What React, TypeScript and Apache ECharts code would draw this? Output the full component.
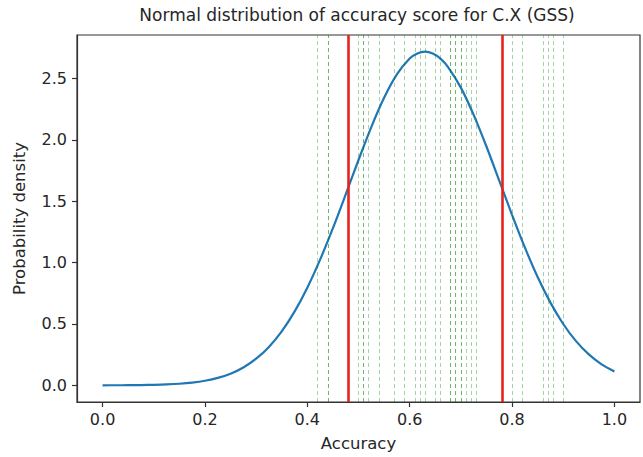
import React, { useEffect, useRef } from "react";
import * as echarts from "echarts";

const titleText = "Normal distribution of accuracy score for C.X (GSS)";
const xAxisName = "Accuracy";
const yAxisName = "Probability density";

const xTicks = [0.0, 0.2, 0.4, 0.6, 0.8, 1.0];
const yTicks = [0.0, 0.5, 1.0, 1.5, 2.0, 2.5];

// density curve
const curveX = [
  0.0, 0.025, 0.05, 0.075, 0.1, 0.125, 0.15, 0.175, 0.2, 0.225, 0.25, 0.275, 0.3, 0.325,
  0.35, 0.375, 0.4, 0.425, 0.45, 0.475, 0.5, 0.525, 0.55, 0.575, 0.6, 0.615, 0.63, 0.645,
  0.66, 0.675, 0.7, 0.725, 0.75, 0.775, 0.8, 0.825, 0.85, 0.875, 0.9, 0.925, 0.95, 0.975,
  1.0,
];
const curveY = [
  0.0003, 0.0005, 0.0011, 0.0021, 0.004, 0.0073, 0.0129, 0.0222, 0.0371, 0.0602, 0.0949,
  0.1455, 0.2168, 0.3134, 0.4399, 0.6005, 0.796, 1.0246, 1.281, 1.5564, 1.837, 2.1055,
  2.344, 2.535, 2.664, 2.705, 2.72, 2.705, 2.664, 2.595, 2.427, 2.205, 1.947, 1.669, 1.39,
  1.124, 0.883, 0.674, 0.5, 0.36, 0.252, 0.171, 0.113,
];

// individual accuracy scores (green dashed lines)
const scores = [
  0.417, 0.436, 0.442, 0.5, 0.505, 0.513, 0.519, 0.539, 0.573, 0.592, 0.612, 0.617, 0.631,
  0.651, 0.657, 0.675, 0.681, 0.685, 0.69, 0.696, 0.703, 0.709, 0.722, 0.735, 0.804, 0.821,
  0.856, 0.873, 0.876, 0.902,
];

// mean ± one standard deviation (red lines)
const sigmaBounds = [0.485, 0.776];

export default function App() {
  const ref = useRef<HTMLDivElement>(null);
  useEffect(() => {
    if (!ref.current) return;
    const chart = echarts.init(ref.current, null, { renderer: "svg" });
    const font = "DejaVu Sans";
    const txt = "#262626";
    chart.setOption({
      animation: false,
      backgroundColor: "#ffffff",
      textStyle: { fontFamily: font },
      graphic: [
        {
          type: "text",
          x: 357,
          y: 6,
          style: {
            text: titleText,
            fontFamily: font,
            fontSize: 17,
            fill: txt,
            textAlign: "center",
            textVerticalAlign: "top",
          },
        },
      ],
      grid: {
        left: 77,
        right: 3,
        top: 35,
        bottom: 55,
        show: true,
        borderColor: "#333",
        borderWidth: 1.2,
        backgroundColor: "transparent",
        containLabel: false,
      },
      xAxis: {
        type: "value",
        min: -0.05,
        max: 1.05,
        name: xAxisName,
        nameLocation: "middle",
        nameGap: 33,
        nameTextStyle: { fontFamily: font, fontSize: 16.5, color: txt },
        axisLine: { show: true, onZero: false, lineStyle: { color: "#333", width: 1.2 } },
        axisTick: {
          show: true,
          inside: false,
          length: 5,
          customValues: xTicks,
          lineStyle: { color: "#333", width: 1.2 },
        },
        axisLabel: {
          show: true,
          margin: 9,
          customValues: xTicks,
          fontFamily: font,
          fontSize: 16,
          color: txt,
          formatter: (v: number) => v.toFixed(1),
        },
        splitLine: { show: false },
      },
      yAxis: {
        type: "value",
        min: -0.136,
        max: 2.856,
        name: yAxisName,
        nameLocation: "middle",
        nameGap: 49,
        nameRotate: 90,
        nameTextStyle: { fontFamily: font, fontSize: 16.5, color: txt },
        axisLine: { show: true, onZero: false, lineStyle: { color: "#333", width: 1.2 } },
        axisTick: {
          show: true,
          inside: false,
          length: 5,
          customValues: yTicks,
          lineStyle: { color: "#333", width: 1.2 },
        },
        axisLabel: {
          show: true,
          margin: 10,
          customValues: yTicks,
          fontFamily: font,
          fontSize: 16,
          color: txt,
          formatter: (v: number) => v.toFixed(1),
        },
        splitLine: { show: false },
      },
      series: [
        {
          type: "line",
          name: "scores",
          data: [],
          z: 1,
          silent: true,
          markLine: {
            silent: true,
            symbol: ["none", "none"],
            label: { show: false },
            lineStyle: { color: "rgba(0,128,0,0.35)", width: 1, type: [4, 3] },
            data: scores.map((s) => ({ xAxis: s })),
          },
        },
        {
          type: "line",
          name: "sigma",
          data: [],
          z: 2,
          silent: true,
          markLine: {
            silent: true,
            symbol: ["none", "none"],
            label: { show: false },
            lineStyle: { color: "#e8231b", width: 2.6, type: "solid" },
            data: sigmaBounds.map((s) => ({ xAxis: s })),
          },
        },
        {
          type: "line",
          name: "density",
          z: 3,
          data: curveX.map((x, i) => [x, curveY[i]]),
          smooth: 0.3,
          showSymbol: false,
          symbol: "none",
          lineStyle: { color: "#1f77b4", width: 2.2 },
        },
      ],
    });
    return () => chart.dispose();
  }, []);
  return (
    <div
      ref={ref}
      style={{ position: "absolute", left: 0, top: 0, width: 643, height: 457 }}
    />
  );
}
